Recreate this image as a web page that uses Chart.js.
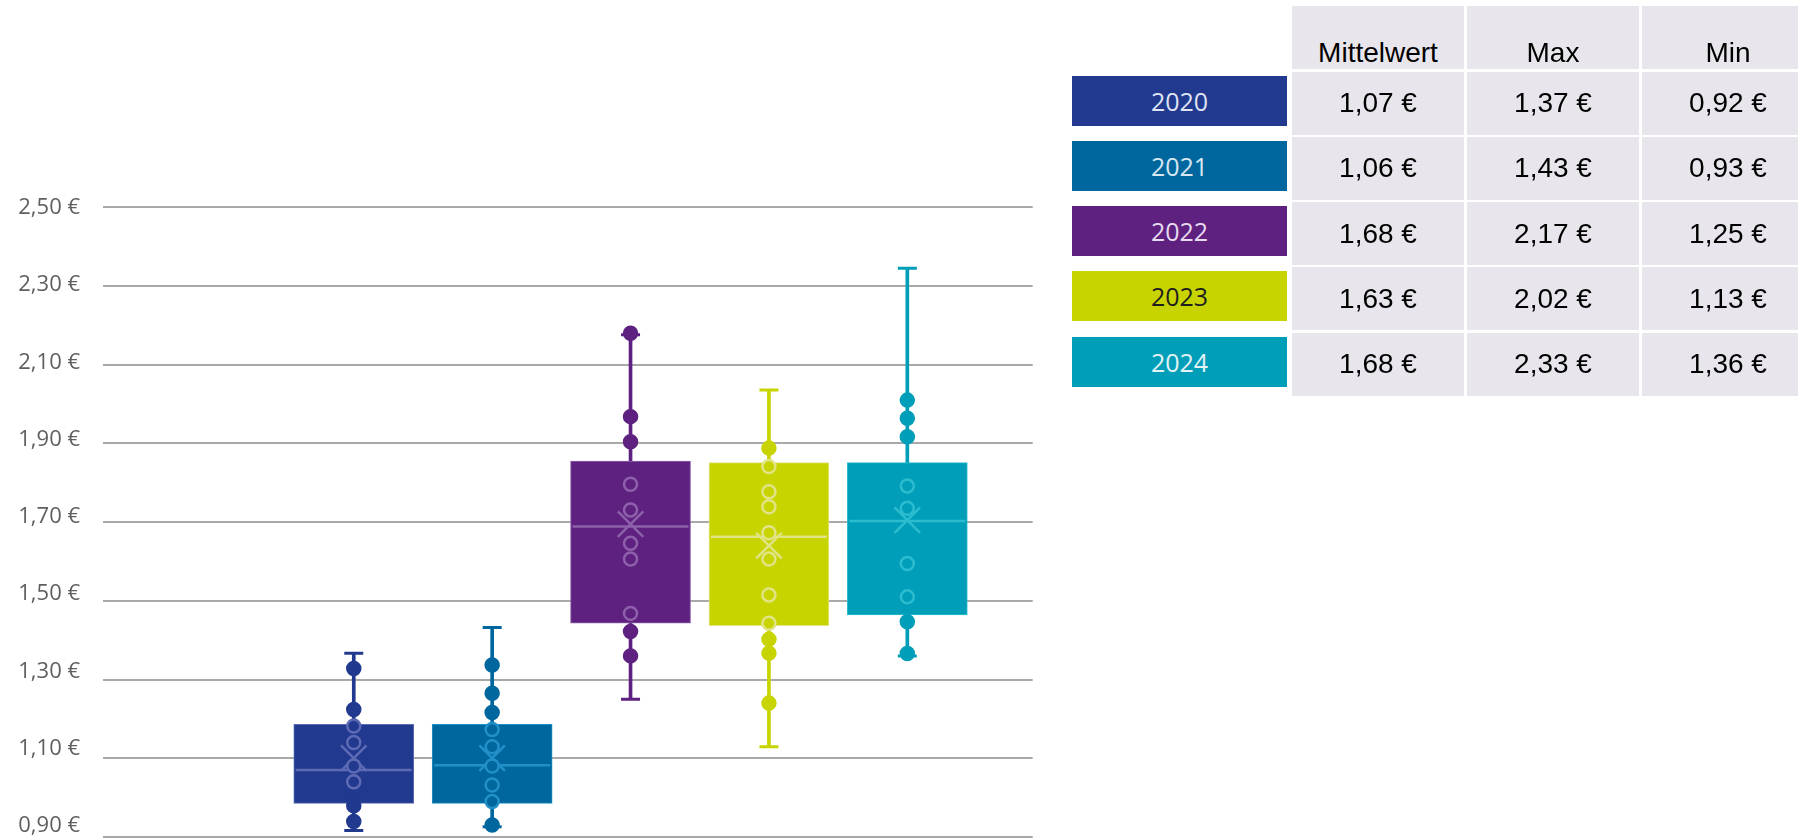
<!DOCTYPE html>
<html lang="de">
<head>
<meta charset="utf-8">
<title>Preisverteilung 2020–2024</title>
<script src="https://cdn.jsdelivr.net/npm/chart.js@4.4.1/dist/chart.umd.min.js"></script>
<style>
  html, body { margin: 0; padding: 0; background: #fff; }
  #wrap { position: relative; width: 1798px; height: 838px; overflow: hidden; }
  #chart { position: absolute; left: 0; top: 0; }
  .cell {
    position: absolute;
    background: #e8e6ec;
    display: flex;
    justify-content: center;
    align-items: center;
    font-family: "Liberation Sans", Arial, sans-serif;
    font-size: 28px;
    color: #000;
    white-space: nowrap;
  }
  .cell.head { align-items: flex-end; }
  .key {
    position: absolute;
    display: flex;
    justify-content: center;
    align-items: center;
    font-family: "Open Sans", sans-serif;
    font-size: 25px;
  }
</style>
</head>
<body>
<div id="wrap">
  <canvas id="chart" width="1798" height="838"></canvas>
  <div id="table"></div>
</div>
<script>
const years = ["2020", "2021", "2022", "2023", "2024"];
const colors = ["#213a8f", "#00679e", "#5e2180", "#c8d400", "#009eb8"];
const lightColors = ["#5e6ab4", "#2190c8", "#8e60ac", "#e0e484", "#2cbccf"];
const keyTextColors = ["#dfe3f3", "#d7e7f1", "#e7dbef", "#1e1e1e", "#e3f3f6"];

// box & whisker readings from the picture
const whiskerLow = [0.916, 0.926, 1.25, 1.129, 1.36];
const whiskerHigh = [1.367, 1.432, 2.176, 2.036, 2.345];
const q1 = [0.985, 0.985, 1.443, 1.437, 1.464];
const q3 = [1.186, 1.186, 1.855, 1.851, 1.851];
const medians = [1.07, 1.082, 1.689, 1.663, 1.703];
const means = [1.10, 1.10, 1.695, 1.64, 1.705];

const points2020 = [1.328, 1.224, 1.182, 1.140, 1.080, 1.040, 0.979, 0.939];
const points2021 = [1.337, 1.265, 1.216, 1.173, 1.129, 1.080, 1.032, 0.990, 0.930];
const points2022 = [2.18, 1.968, 1.904, 1.796, 1.731, 1.646, 1.606, 1.468, 1.422, 1.36];
const points2023 = [1.888, 1.841, 1.777, 1.739, 1.673, 1.606, 1.515, 1.443, 1.402, 1.367, 1.24];
const points2024 = [2.010, 1.964, 1.917, 1.792, 1.735, 1.595, 1.51, 1.447, 1.366];

const tickValues = [0.9, 1.1, 1.3, 1.5, 1.7, 1.9, 2.1, 2.3, 2.5];

// table beside the chart
const tableHeads = ["Mittelwert", "Max", "Min"];
const tableMean = [1.07, 1.06, 1.68, 1.63, 1.68];
const tableMax = [1.37, 1.43, 2.17, 2.02, 2.33];
const tableMin = [0.92, 0.93, 1.25, 1.13, 1.36];

const euro = (v) => v.toFixed(2).replace(".", ",") + " €";
const pointSets = [points2020, points2021, points2022, points2023, points2024];
const inBox = (i, v) => v >= q1[i] && v <= q3[i];
const setTicks = (axis) => { axis.ticks = tickValues.map((value) => ({ value })); };

Chart.defaults.font.family = "'Open Sans', sans-serif";

const datasets = [
  {
    type: "bar",
    label: "whisker",
    data: years.map((_, i) => ({ x: i + 1, y: [whiskerLow[i], whiskerHigh[i]] })),
    backgroundColor: colors,
    barThickness: 3,
    grouped: false,
    order: 6,
  },
  {
    type: "bar",
    label: "box",
    data: years.map((_, i) => ({ x: i + 1, y: [q1[i], q3[i]] })),
    backgroundColor: colors,
    borderColor: lightColors,
    borderWidth: 1,
    borderSkipped: false,
    barThickness: 120,
    grouped: false,
    order: 5,
  },
  {
    type: "line",
    label: "caps",
    data: years.flatMap((_, i) => [{ x: i + 1, y: whiskerLow[i] }, { x: i + 1, y: whiskerHigh[i] }]),
    showLine: false,
    pointStyle: "line",
    pointRadius: 9.5,
    pointBorderWidth: 3,
    pointBorderColor: years.flatMap((_, i) => [colors[i], colors[i]]),
    order: 4,
  },
  {
    type: "line",
    label: "median",
    data: medians.map((v, i) => ({ x: i + 1, y: v })),
    showLine: false,
    pointStyle: "line",
    pointRadius: 58,
    pointBorderWidth: 2.5,
    pointBorderColor: lightColors,
    order: 3,
  },
  {
    type: "line",
    label: "mean",
    data: means.map((v, i) => ({ x: i + 1, y: v })),
    showLine: false,
    pointStyle: "crossRot",
    pointRadius: 18,
    pointBorderWidth: 2.5,
    pointBorderColor: lightColors,
    order: 2,
  },
  ...pointSets.map((vals, i) => ({
    type: "line",
    label: years[i],
    data: vals.map((v) => ({ x: i + 1, y: v })),
    showLine: false,
    pointStyle: "circle",
    pointRadius: 6.5,
    pointBorderWidth: 2.5,
    pointBackgroundColor: colors[i],
    pointBorderColor: (ctx) => (ctx.raw && inBox(i, ctx.raw.y) ? lightColors[i] : colors[i]),
    order: 1,
  })),
];

new Chart(document.getElementById("chart"), {
  type: "bar",
  data: { datasets },
  options: {
    responsive: false,
    animation: false,
    events: [],
    layout: {
      autoPadding: false,
      padding: { left: 17, right: 765.3, top: 207.3, bottom: 1.1 },
    },
    plugins: {
      legend: { display: false },
      tooltip: { enabled: false },
    },
    scales: {
      x: { type: "linear", min: -0.812, max: 5.906, offset: false, display: false },
      y: {
        position: "left",
        min: 0.9,
        max: 2.5,
        afterBuildTicks: setTicks,
        ticks: { display: false },
        grid: { color: "#a9a9a9", lineWidth: 2, drawTicks: false },
        border: { display: false },
      },
      // labels sit a little tighter than the gridlines in the original
      yLabels: {
        position: "left",
        min: 0.8717,
        max: 2.501,
        afterBuildTicks: setTicks,
        afterFit: (scale) => {
          scale.width = 86;
          scale.paddingTop = 0;
          scale.paddingBottom = 0;
        },
        ticks: {
          padding: 23,
          color: "#5f5f5f",
          font: { size: 22 },
          callback: (v) => euro(v),
        },
        grid: { display: false, drawTicks: false },
        border: { display: false },
      },
    },
  },
});

// table with coloured year keys
const table = document.getElementById("table");
const colLeft = [1292, 1467, 1642];
const colWidth = 172;
const headTop = 6;
const rowTop = 71.5;
const rowPitch = 65.3;
const rowHeight = 63;

function addCell(cls, left, top, width, height, text) {
  const el = document.createElement("div");
  el.className = cls;
  el.style.left = left + "px";
  el.style.top = top + "px";
  el.style.width = width + "px";
  el.style.height = height + "px";
  el.textContent = text;
  table.appendChild(el);
  return el;
}

tableHeads.forEach((h, c) => addCell("cell head", colLeft[c], headTop, colWidth, rowHeight, h));
years.forEach((year, r) => {
  const top = rowTop + r * rowPitch;
  const key = addCell("key", 1072, top + 4, 215, 50, year);
  key.style.background = colors[r];
  key.style.color = keyTextColors[r];
  [tableMean[r], tableMax[r], tableMin[r]].forEach((v, c) =>
    addCell("cell", colLeft[c], top, colWidth, rowHeight, euro(v))
  );
});
</script>
</body>
</html>
